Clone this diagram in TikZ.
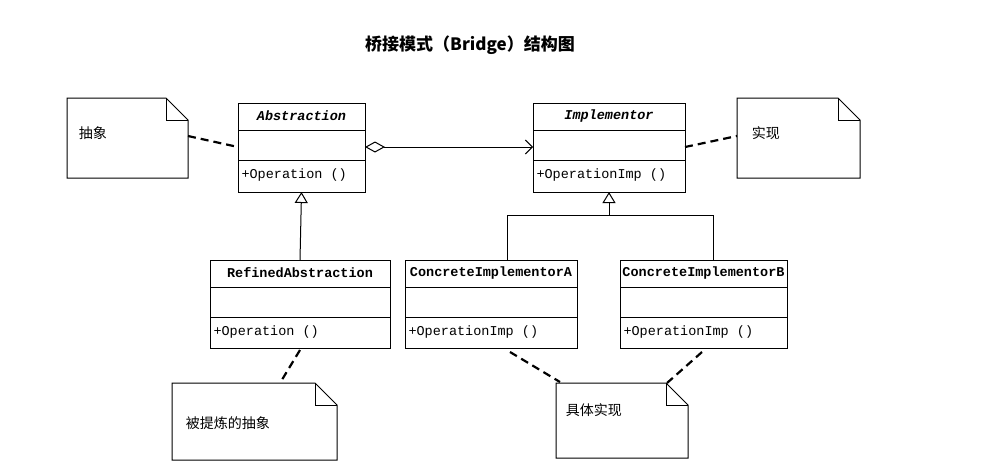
\documentclass[tikz,border=0pt]{standalone}
\usepackage{fontspec}
\setmainfont{Liberation Serif}
\newfontfamily\cjk{Noto Sans CJK SC}
\newfontfamily\mono{Liberation Mono}
\usetikzlibrary{arrows.meta,calc}
\begin{document}
\begin{tikzpicture}[x=1pt,y=-1pt,line width=1pt,
  nm/.style={font=\mono\bfseries\fontsize{13.5}{15}\selectfont},
  op/.style={font=\mono\fontsize{13.5}{15}\selectfont,anchor=west,inner sep=1pt},
  nt/.style={font=\cjk\fontsize{14}{16}\selectfont,anchor=west},
  dsh/.style={line width=2.2pt,dash pattern=on 8pt off 5pt},
  tri/.style={-{Triangle[open,width=13pt,length=11pt]}}]
\useasboundingbox (0,0) rectangle (992,475);
\node[font=\cjk\bfseries\fontsize{17}{20}\selectfont] (title) at (470,45) {桥接模式（\textbf{Bridge}）结构图};
% classes
\newcommand\umlclass[6]{%
  \draw (#1,#2) rectangle (#3,#4);
  \draw (#1,{#2+27}) -- (#3,{#2+27}) (#1,{#2+57}) -- (#3,{#2+57});
  \coordinate (#5-n) at ({(#1+#3)/2},#2);
  \coordinate (#5-s) at ({(#1+#3)/2},#4);
  \coordinate (#5-w) at (#1,{#2+44});
  \coordinate (#5-e) at (#3,{#2+44});
  \node[op] (#5-op) at ({#1+2},{#2+72}) {#6};}
\umlclass{238}{103}{365}{192}{abs}{+Operation ()}
\node[nm,font=\mono\bfseries\itshape\fontsize{13.5}{15}\selectfont] (absn) at (301.5,116) {Abstraction};
\umlclass{533}{103}{685}{192}{imp}{+OperationImp ()}
\node[nm,font=\mono\bfseries\itshape\fontsize{13.5}{15}\selectfont] (impn) at (609,116) {Implementor};
\umlclass{210}{260}{390}{348}{ref}{+Operation ()}
\node[nm] (refn) at (300,273) {RefinedAbstraction};
\umlclass{405}{260}{577}{348}{ca}{+OperationImp ()}
\node[nm] (can) at (491,273) {ConcreteImplementorA};
\umlclass{620}{260}{787}{348}{cb}{+OperationImp ()}
\node[nm] (cbn) at (703.5,273) {ConcreteImplementorB};
% notes
\newcommand\umlnote[5]{%
  \draw (#1,#2) -- ({#3-22},#2) -- (#3,{#2+22}) -- (#3,#4) -- (#1,#4) -- cycle;
  \draw ({#3-22},#2) -- ({#3-22},{#2+22}) -- (#3,{#2+22});
  \coordinate (#5-w) at (#1,{(#2+#4)/2-2});
  \coordinate (#5-e) at (#3,{(#2+#4)/2-2});}
\umlnote{67}{98}{188}{178}{n1}
\node[nt] (t1) at (75,133) {抽象};
\umlnote{737}{98}{860}{178}{n2}
\node[nt] (t2) at (748,133) {实现};
\umlnote{172}{383}{337}{460}{n3}
\node[nt] (t3) at (182,423) {被提炼的抽象};
\umlnote{556}{383}{688}{458}{n4}
\node[nt] (t4) at (562,410) {具体实现};
% dashed note links
\draw[dsh] (n1-e) -- (abs-w);
\draw[dsh] (imp-e) -- (n2-w);
\draw[dsh] (300,350) -- (280,383);
\draw[dsh] (510,352) -- (560,382);
\draw[dsh] (702,352) -- (667,383);
% aggregation
\draw[{Diamond[open,width=11pt,length=20pt]}-{Straight Barb[length=7pt,width=14pt]}] (abs-e) -- (imp-w);
% inheritance
\draw[tri] (ref-n) -- (abs-s);
\draw ($(ca-n)+(16,0)$) -- ++(0,-45) -| ($(cb-n)+(9.5,0)$);
\draw[tri] (609,215) -- (imp-s);
\end{tikzpicture}
\end{document}
